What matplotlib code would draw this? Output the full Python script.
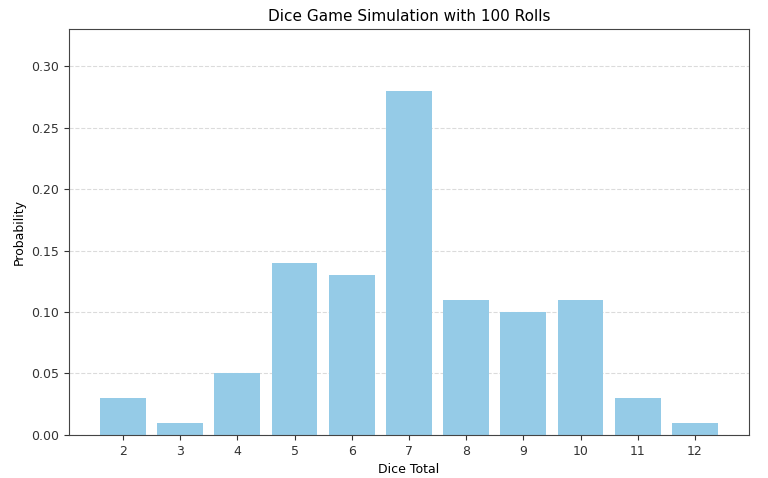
import matplotlib
matplotlib.use('Agg')
import matplotlib.pyplot as plt

# Dice totals and their observed probabilities (100 rolls)
totals = [2, 3, 4, 5, 6, 7, 8, 9, 10, 11, 12]
probabilities = [0.03, 0.01, 0.05, 0.14, 0.13, 0.28, 0.11, 0.10, 0.11, 0.03, 0.01]

fig = plt.figure(figsize=(7.68, 4.78), dpi=100)
ax = fig.add_axes([0.09, 0.09, 0.885, 0.849])

ax.bar(totals, probabilities, color='#95CBE7', width=0.8, zorder=2)
ax.set_title("Dice Game Simulation with 100 Rolls", fontsize=11)
ax.set_xlabel("Dice Total", fontsize=9)
ax.set_ylabel("Probability", fontsize=9)
ax.set_xticks(totals)
ax.set_ylim(0, 0.33)
ax.tick_params(labelsize=9, colors='#333333')
ax.grid(axis='y', linestyle='--', alpha=0.7, color='#cccccc', zorder=0)
for s in ax.spines.values():
    s.set_color('#444444')

plt.savefig("out.png", dpi=100)
plt.close()
